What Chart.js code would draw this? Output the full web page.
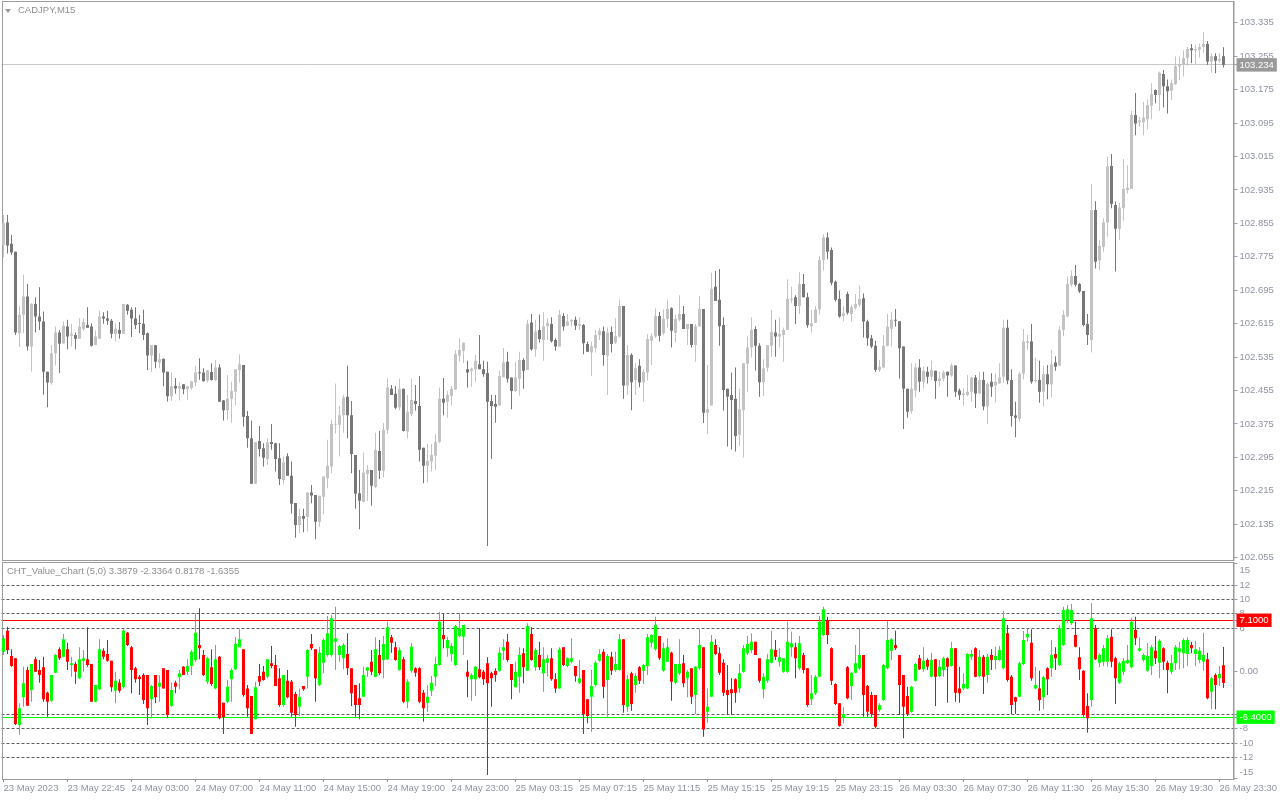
<!DOCTYPE html>
<html><head><meta charset="utf-8">
<script src="https://cdn.jsdelivr.net/npm/chart.js@4.4.1/dist/chart.umd.min.js"></script>
<style>
html,body{margin:0;padding:0;background:#fff;width:1280px;height:800px;overflow:hidden;}
#main{position:absolute;left:0;top:0;}
#ind{position:absolute;left:0;top:560px;}
.title{position:absolute;font-family:"Liberation Sans",Arial,sans-serif;font-size:9.5px;color:#8e8e8e;white-space:nowrap;line-height:12px;}
.tri{position:absolute;left:5px;top:9px;width:0;height:0;border-left:3px solid transparent;border-right:3px solid transparent;border-top:4px solid #9a9a9a;}
</style></head><body>
<canvas id="main" width="1280" height="566"></canvas>
<canvas id="ind" width="1280" height="240"></canvas>
<div class="tri"></div>
<div class="title" style="left:18px;top:4px">CADJPY,M15</div>
<div class="title" style="left:7px;top:565px">CHT_Value_Chart (5,0) 3.3879 -2.3364 0.8178 -1.6355</div>
<script>
// ---------- time axis ----------
const timeTickLabels = ['23 May 2023','23 May 22:45','24 May 03:00','24 May 07:00','24 May 11:00','24 May 15:00','24 May 19:00','24 May 23:00','25 May 03:15','25 May 07:15','25 May 11:15','25 May 15:15','25 May 19:15','25 May 23:15','26 May 03:30','26 May 07:30','26 May 11:30','26 May 15:30','26 May 19:30','26 May 23:30'];
const BARS_PER_LABEL = 16;
const EMPTY_SLOTS = 2;

// ---------- CADJPY M15 prices ----------
const mainOpen = [
102.803,102.857,102.806,102.787,102.592,102.636,102.680,102.560,102.662,102.632,
102.620,102.500,102.473,102.544,102.594,102.568,102.608,102.586,102.588,102.579,
102.602,102.612,102.608,102.564,102.579,102.632,102.627,102.622,102.591,102.600,
102.591,102.660,102.648,102.627,102.616,102.615,102.592,102.539,102.563,102.522,
102.531,102.500,102.441,102.466,102.460,102.470,102.458,102.461,102.474,102.498,
102.498,102.479,102.499,102.480,102.510,102.431,102.408,102.435,102.452,102.504,
102.516,102.394,102.341,102.232,102.334,102.317,102.291,102.332,102.329,102.293,
102.241,102.298,102.251,102.186,102.133,102.155,102.153,102.211,102.205,102.141,
102.201,102.245,102.273,102.373,102.373,102.396,102.440,102.396,102.301,102.209,
102.189,102.255,102.265,102.224,102.310,102.263,102.361,102.459,102.447,102.415,
102.459,102.357,102.399,102.430,102.418,102.318,102.275,102.285,102.299,102.332,
102.435,102.428,102.442,102.458,102.538,102.550,102.506,102.502,102.506,102.518,
102.506,102.497,102.430,102.423,102.419,102.487,102.524,102.486,102.454,102.483,
102.528,102.504,102.618,102.554,102.600,102.576,102.609,102.614,102.576,102.560,
102.633,102.610,102.620,102.624,102.610,102.612,102.566,102.546,102.557,102.588,
102.597,102.538,102.595,102.570,102.584,102.657,102.467,102.540,102.480,102.514,
102.475,102.498,102.574,102.584,102.633,102.592,102.626,102.652,102.593,102.624,
102.638,102.602,102.614,102.564,102.608,102.650,102.402,102.419,102.703,102.672,
102.612,102.459,102.444,102.435,102.349,102.408,102.519,102.558,102.602,102.562,
102.475,102.510,102.562,102.594,102.584,102.588,102.600,102.672,102.678,102.657,
102.710,102.678,102.609,102.617,102.649,102.767,102.821,102.791,102.715,102.674,
102.633,102.686,102.638,102.653,102.660,102.676,102.620,102.580,102.562,102.504,
102.510,102.562,102.603,102.624,102.621,102.560,102.459,102.406,102.455,102.510,
102.476,102.500,102.488,102.502,102.478,102.484,102.500,102.491,102.515,102.455,
102.444,102.444,102.452,102.486,102.448,102.480,102.417,102.476,102.467,102.472,
102.488,102.605,102.480,102.395,102.387,102.495,102.569,102.572,102.478,102.480,
102.452,102.494,102.470,102.522,102.514,102.600,102.632,102.708,102.729,102.710,
102.693,102.614,102.576,102.887,102.766,102.799,102.857,102.992,102.899,102.842,
102.891,102.935,102.937,103.114,103.097,103.097,103.104,103.136,103.174,103.162,
103.212,103.183,103.172,103.188,103.230,103.234,103.251,103.274,103.269,103.271,
103.277,103.284,103.242,103.255,103.244,103.255];
const mainHigh = [
102.875,102.875,102.827,102.787,102.656,102.732,102.710,102.664,102.678,102.702,
102.644,102.500,102.564,102.608,102.600,102.620,102.624,102.615,102.594,102.628,
102.628,102.654,102.616,102.599,102.646,102.642,102.646,102.626,102.615,102.619,
102.662,102.662,102.654,102.654,102.636,102.648,102.594,102.564,102.563,102.544,
102.531,102.500,102.498,102.485,102.474,102.470,102.465,102.477,102.514,102.532,
102.508,102.504,102.520,102.528,102.518,102.432,102.492,102.476,102.506,102.542,
102.516,102.406,102.383,102.331,102.370,102.329,102.341,102.375,102.330,102.329,
102.297,102.305,102.285,102.186,102.172,102.172,102.211,102.229,102.205,102.203,
102.249,102.337,102.385,102.472,102.418,102.444,102.514,102.430,102.301,102.265,
102.306,102.277,102.265,102.354,102.358,102.377,102.484,102.468,102.466,102.483,
102.459,102.444,102.483,102.468,102.490,102.318,102.327,102.327,102.351,102.462,
102.485,102.454,102.466,102.552,102.580,102.569,102.526,102.510,102.540,102.588,
102.526,102.524,102.444,102.444,102.502,102.557,102.548,102.486,102.524,102.548,
102.532,102.624,102.638,102.624,102.636,102.643,102.628,102.630,102.580,102.648,
102.640,102.638,102.625,102.632,102.630,102.614,102.572,102.572,102.600,102.605,
102.608,102.606,102.608,102.628,102.673,102.657,102.564,102.544,102.520,102.530,
102.506,102.590,102.592,102.652,102.643,102.649,102.672,102.654,102.636,102.683,
102.657,102.614,102.614,102.614,102.681,102.650,102.516,102.737,102.741,102.746,
102.630,102.459,102.498,102.510,102.459,102.520,102.584,102.630,102.609,102.568,
102.530,102.564,102.648,102.624,102.630,102.606,102.721,102.703,102.683,102.738,
102.734,102.689,102.648,102.657,102.777,102.829,102.833,102.797,102.718,102.694,
102.658,102.691,102.660,102.686,102.707,102.687,102.624,102.588,102.574,102.528,
102.588,102.638,102.642,102.650,102.621,102.560,102.459,102.520,102.520,102.530,
102.512,102.512,102.526,102.502,102.500,102.503,102.500,102.520,102.515,102.460,
102.460,102.492,102.488,102.492,102.500,102.500,102.475,102.496,102.496,102.520,
102.624,102.624,102.506,102.428,102.500,102.602,102.588,102.614,102.534,102.526,
102.514,102.516,102.552,102.537,102.609,102.647,102.728,102.742,102.755,102.712,
102.693,102.638,102.949,102.908,102.815,102.867,103.014,103.021,102.907,102.904,
103.009,102.994,103.124,103.167,103.110,103.146,103.152,103.190,103.175,103.218,
103.222,103.199,103.199,103.254,103.254,103.269,103.277,103.284,103.282,103.285,
103.312,103.291,103.262,103.262,103.262,103.276];
const mainLow = [
102.774,102.783,102.779,102.588,102.559,102.592,102.551,102.500,102.594,102.600,
102.445,102.415,102.469,102.515,102.497,102.567,102.554,102.560,102.554,102.579,
102.598,102.605,102.560,102.563,102.579,102.615,102.612,102.580,102.572,102.579,
102.591,102.636,102.583,102.602,102.592,102.576,102.504,102.500,102.508,102.508,
102.465,102.429,102.430,102.447,102.431,102.446,102.433,102.457,102.465,102.481,
102.477,102.474,102.479,102.478,102.428,102.383,102.385,102.378,102.420,102.474,
102.369,102.318,102.232,102.232,102.297,102.273,102.277,102.313,102.261,102.229,
102.231,102.251,102.161,102.103,102.114,102.116,102.118,102.185,102.099,102.129,
102.159,102.221,102.257,102.353,102.297,102.354,102.341,102.257,102.172,102.123,
102.187,102.191,102.179,102.221,102.243,102.247,102.351,102.444,102.410,102.408,
102.357,102.340,102.394,102.407,102.285,102.233,102.235,102.261,102.265,102.329,
102.396,102.390,102.420,102.456,102.524,102.520,102.462,102.464,102.476,102.506,
102.488,102.083,102.291,102.378,102.419,102.487,102.474,102.410,102.452,102.443,
102.459,102.504,102.550,102.536,102.570,102.526,102.576,102.570,102.550,102.560,
102.598,102.610,102.608,102.600,102.600,102.542,102.548,102.490,102.546,102.576,
102.514,102.444,102.546,102.566,102.582,102.435,102.444,102.408,102.444,102.463,
102.428,102.479,102.516,102.580,102.572,102.588,102.606,102.558,102.570,102.621,
102.602,102.564,102.558,102.524,102.608,102.377,102.351,102.419,102.669,102.562,
102.407,102.321,102.314,102.309,102.322,102.295,102.452,102.534,102.503,102.440,
102.442,102.500,102.536,102.536,102.558,102.524,102.600,102.665,102.614,102.638,
102.678,102.605,102.593,102.617,102.636,102.742,102.769,102.707,102.668,102.629,
102.621,102.637,102.620,102.648,102.654,102.582,102.562,102.556,102.499,102.499,
102.508,102.560,102.560,102.608,102.484,102.363,102.390,102.400,102.439,102.452,
102.460,102.472,102.480,102.435,102.464,102.476,102.440,102.488,102.440,102.432,
102.419,102.442,102.428,102.413,102.446,102.408,102.375,102.440,102.426,102.472,
102.475,102.470,102.369,102.343,102.381,102.482,102.552,102.471,102.474,102.426,
102.416,102.434,102.439,102.502,102.514,102.585,102.630,102.704,102.704,102.688,
102.608,102.564,102.546,102.747,102.743,102.787,102.823,102.891,102.740,102.815,
102.861,102.927,102.937,103.066,103.086,103.066,103.080,103.104,103.142,103.124,
103.132,103.118,103.150,103.186,103.198,103.206,103.232,103.238,103.234,103.252,
103.263,103.234,103.216,103.214,103.239,103.228];
const mainClose = [
102.855,102.802,102.785,102.594,102.636,102.680,102.560,102.662,102.632,102.620,
102.500,102.474,102.544,102.594,102.567,102.610,102.584,102.591,102.579,102.608,
102.619,102.605,102.562,102.584,102.632,102.627,102.622,102.591,102.603,102.591,
102.662,102.646,102.627,102.612,102.614,102.588,102.539,102.563,102.524,102.530,
102.498,102.441,102.465,102.460,102.466,102.458,102.465,102.477,102.498,102.496,
102.477,102.503,102.480,102.510,102.428,102.408,102.435,102.454,102.506,102.518,
102.392,102.341,102.232,102.331,102.315,102.294,102.331,102.327,102.291,102.243,
102.283,102.251,102.184,102.133,102.155,102.148,102.211,102.204,102.141,102.203,
102.249,102.275,102.375,102.375,102.396,102.438,102.396,102.303,102.208,102.191,
102.259,102.265,102.227,102.313,102.263,102.361,102.462,102.444,102.414,102.459,
102.358,102.404,102.432,102.423,102.313,102.275,102.287,102.301,102.332,102.435,
102.426,102.444,102.459,102.542,102.552,102.569,102.498,102.507,102.526,102.506,
102.494,102.428,102.418,102.416,102.490,102.522,102.483,102.454,102.486,102.528,
102.502,102.614,102.554,102.596,102.578,102.609,102.617,102.573,102.560,102.636,
102.608,102.620,102.624,102.610,102.614,102.568,102.548,102.561,102.588,102.598,
102.540,102.593,102.566,102.585,102.657,102.467,102.540,102.475,102.508,102.474,
102.499,102.578,102.585,102.633,102.586,102.626,102.650,102.598,102.626,102.638,
102.602,102.614,102.564,102.609,102.650,102.402,102.411,102.698,102.669,102.609,
102.456,102.440,102.432,102.346,102.410,102.520,102.558,102.600,102.562,102.475,
102.508,102.564,102.595,102.584,102.590,102.600,102.674,102.674,102.657,102.710,
102.678,102.612,102.616,102.649,102.767,102.821,102.787,102.713,102.672,102.632,
102.640,102.641,102.654,102.662,102.674,102.620,102.580,102.560,102.504,102.512,
102.562,102.608,102.624,102.622,102.556,102.459,102.404,102.459,102.510,102.476,
102.502,102.488,102.504,102.478,102.484,102.498,102.491,102.515,102.452,102.444,
102.448,102.452,102.486,102.448,102.480,102.417,102.471,102.464,102.476,102.486,
102.605,102.479,102.394,102.390,102.495,102.572,102.573,102.476,102.480,102.452,
102.494,102.470,102.518,102.512,102.600,102.636,102.710,102.729,102.708,102.692,
102.612,102.588,102.887,102.763,102.801,102.857,102.991,102.901,102.842,102.893,
102.937,102.940,103.114,103.094,103.101,103.108,103.138,103.164,103.162,103.215,
103.183,103.171,103.190,103.231,103.236,103.250,103.272,103.269,103.272,103.277,
103.284,103.242,103.255,103.244,103.248,103.234];

// ---------- CHT_Value_Chart (5,0) ----------
const indOpen = [
2.72,5.65,2.12,1.79,-7.49,-3.64,0.17,-2.62,1.65,0.17,
0.54,-2.99,-4.10,-0.20,3.05,2.02,3.05,0.86,1.00,-0.99,
1.47,1.65,1.00,-4.24,-2.52,2.86,2.40,1.47,-2.71,-1.60,
-2.25,5.37,3.33,0.40,-0.76,-0.53,-0.53,-3.92,-0.53,-2.15,
0.40,0.17,-4.85,-1.60,-0.85,0.63,-0.06,0.73,1.56,3.65,
2.26,-1.46,0.54,-2.39,2.02,-4.38,-4.24,-1.13,0.26,3.33,
3.05,-2.39,-3.45,-6.70,-0.67,-0.06,-0.76,1.10,0.86,-0.99,
-4.71,-1.32,-1.46,-3.18,-4.94,-2.06,-0.76,3.79,3.05,-1.92,
1.19,2.26,2.26,4.11,2.26,1.79,2.40,0.40,-1.92,-3.78,
-3.55,0.07,1.33,-0.76,2.26,1.56,1.65,4.72,3.33,0.17,
1.65,-4.24,0.07,0.40,0.40,-2.99,-4.38,-2.71,-0.76,0.86,
5.04,3.19,2.40,0.86,4.90,4.81,-0.06,-1.13,-1.13,0.26,
-0.06,1.10,-0.30,0.02,0.07,2.86,4.11,1.00,-2.25,-0.76,
2.49,0.07,5.18,0.54,2.26,-0.30,1.19,1.79,-1.13,-2.39,
3.33,0.73,1.33,0.73,-1.60,0.17,-3.92,-3.55,-1.92,1.47,
2.72,-1.22,2.02,0.17,0.17,4.44,-4.94,-0.30,-1.92,0.54,
0.07,0.73,3.98,3.05,4.90,0.07,1.33,2.58,-1.60,-0.30,
1.10,-0.99,0.40,-3.31,0.40,3.33,-5.64,-3.55,3.65,2.49,
1.19,-2.62,-2.52,-1.13,-2.39,-0.06,2.49,2.95,4.11,1.79,
-2.52,-1.32,1.19,2.95,1.33,-0.06,-0.06,3.33,3.33,0.40,
2.26,0.40,-3.92,-3.08,-0.76,5.04,7.04,3.19,-1.78,-4.47,
-6.42,0.54,-2.06,-0.20,0.40,2.26,-2.06,-3.31,-3.31,-5.40,
-4.01,0.40,2.86,3.65,2.26,-0.53,-3.45,-5.64,-1.32,1.79,
0.26,1.56,-0.76,1.65,-0.67,0.17,1.79,0.73,3.19,-2.39,
-2.39,-2.39,2.02,3.19,-0.67,2.02,-0.53,2.26,1.56,1.56,
0.40,5.28,-0.76,-3.64,-3.55,1.00,4.72,3.98,-2.39,-2.39,
-3.64,0.40,0.40,2.40,0.86,3.65,7.13,6.67,5.04,1.93,
0.07,-4.85,-4.01,5.97,1.19,1.33,1.33,4.81,1.79,-1.60,
-0.06,1.10,0.54,5.74,2.86,1.56,0.07,0.73,2.86,1.19,
3.19,1.19,-0.06,1.10,2.72,2.49,2.40,3.65,2.40,1.56,
1.33,1.65,-2.85,-0.53,-0.99,0.8178];
const indHigh = [
5.04,6.20,3.05,1.79,-4.47,0.63,0.63,1.00,2.02,1.56,
2.02,-2.85,-0.53,2.40,3.33,5.18,3.98,2.02,1.33,3.33,
2.95,6.11,1.00,-1.92,4.44,3.19,4.35,1.47,-0.06,-1.13,
5.83,5.51,3.51,0.63,-0.53,-0.30,-0.53,-1.92,-0.53,-0.53,
0.40,0.17,-1.60,-1.32,0.17,0.73,1.65,2.95,8.06,8.76,
2.95,2.02,3.05,3.65,2.12,-4.38,-1.22,0.40,4.72,5.83,
3.05,-1.92,-3.45,-1.46,1.00,0.73,1.65,3.51,2.26,0.40,
-0.53,0.17,-1.22,-2.85,-2.39,-2.06,3.05,5.18,3.05,3.42,
4.58,7.69,7.83,8.99,3.65,3.88,5.28,0.40,-1.92,-1.69,
0.63,0.63,2.95,4.72,4.35,4.90,6.90,5.04,4.11,3.33,
2.02,-1.13,3.88,0.54,0.54,-2.62,-1.92,-0.67,2.02,8.29,
7.97,4.81,3.88,6.44,8.06,6.44,1.56,-0.30,0.73,5.97,
0.17,1.93,-0.06,0.40,3.33,4.44,5.18,1.00,1.33,3.33,
3.19,6.67,6.11,3.19,4.11,3.33,2.26,3.19,-0.30,3.33,
3.33,1.93,4.58,0.73,1.56,0.17,-3.92,0.17,1.47,3.05,
3.05,2.40,2.72,2.72,5.18,4.44,-0.53,-0.06,-0.30,0.73,
1.00,5.18,5.18,7.60,4.90,3.98,4.58,2.72,1.00,4.44,
2.26,0.17,0.40,0.73,5.83,3.33,-2.39,5.04,4.44,3.33,
1.65,0.86,-0.99,-0.99,1.00,3.65,4.90,5.28,4.11,1.79,
-0.30,2.40,5.65,4.35,3.19,1.79,6.90,5.51,3.98,4.90,
2.58,0.40,-0.53,-0.53,7.69,8.99,7.60,3.33,-1.69,-4.47,
-5.03,0.73,-0.06,3.65,5.97,2.26,-1.92,-2.85,-3.31,-4.47,
1.00,7.04,4.58,5.65,2.26,-0.53,-2.15,-2.06,1.19,2.26,
3.33,1.79,2.58,1.65,1.56,2.02,1.93,4.11,3.19,0.63,
-0.30,2.49,2.95,3.33,2.95,2.26,2.40,3.05,3.42,3.51,
8.43,6.44,-0.53,-3.55,1.33,5.65,5.97,5.83,0.63,0.07,
-0.67,0.54,4.35,3.33,6.44,8.99,9.22,9.36,6.90,3.33,
0.17,-3.08,9.45,6.44,2.49,3.65,5.04,5.83,2.02,1.33,
1.79,3.65,7.36,7.60,4.72,2.49,3.98,3.65,4.90,4.44,
3.33,1.47,2.26,3.65,4.11,4.58,4.72,4.11,4.25,3.33,
5.37,2.58,-0.76,-0.30,0.73,3.3879];
const indLow = [
2.26,2.40,0.63,-7.49,-8.89,-4.94,-4.80,-4.24,-0.06,-1.60,
-4.24,-6.33,-4.24,-0.30,1.56,1.93,0.17,-0.76,-1.78,-1.09,
-0.06,0.63,-4.24,-4.33,-2.62,1.65,1.33,-2.85,-4.47,-2.99,
-2.39,3.51,-3.08,-1.60,-3.31,-4.57,-7.49,-6.56,-4.47,-4.24,
-2.39,-6.56,-4.94,-3.08,-2.52,-0.53,-0.53,-0.53,1.33,1.65,
-0.67,-1.78,-2.06,-2.52,-6.70,-8.75,-4.47,-4.24,0.17,3.33,
-3.55,-6.33,-8.75,-6.70,-2.06,-1.32,-0.99,0.40,-2.06,-4.94,
-4.94,-3.78,-6.33,-7.73,-6.24,-2.71,-2.39,2.95,-4.24,-2.06,
-0.30,2.02,2.02,0.17,1.33,0.26,-0.53,-4.85,-6.33,-6.70,
-3.55,-0.76,-0.53,-0.85,-0.53,-0.99,1.56,2.58,1.47,0.07,
-4.47,-5.17,-0.20,-0.76,-4.47,-7.03,-5.64,-3.45,-2.06,0.73,
3.19,2.02,1.33,0.73,4.72,2.26,-3.64,-4.10,-3.45,-0.99,
-1.92,-14.46,-4.94,-1.46,-0.06,1.56,1.33,-3.92,-2.25,-2.99,
-1.69,0.07,1.47,0.07,0.17,-2.85,-0.76,-1.32,-2.99,-2.39,
0.73,0.54,1.10,-1.46,-1.78,-8.75,-7.26,-8.42,-2.15,1.33,
-3.78,-6.33,-0.53,-0.06,0.07,-5.78,-5.64,-5.50,-2.99,-1.78,
-1.78,-0.53,3.33,2.86,1.56,-0.06,1.33,-4.10,-1.78,-0.53,
-2.25,-3.64,-4.57,-5.96,0.17,-9.12,-7.17,-3.55,2.26,-0.53,
-3.45,-6.10,-6.10,-4.38,-2.99,-0.20,2.26,2.49,2.26,-1.60,
-3.78,-1.60,1.10,1.56,0.63,-0.20,-0.20,2.02,-0.99,0.17,
-0.30,-4.94,-4.71,-3.31,-0.85,4.90,3.79,-1.92,-4.71,-7.73,
-7.26,-3.92,-4.01,-0.30,0.17,-6.33,-6.33,-6.33,-7.96,-5.64,
-4.10,0.26,1.56,2.95,-6.10,-9.35,-6.24,-5.78,-1.46,0.17,
-0.06,0.17,-0.85,-4.85,-0.85,-0.76,-4.38,0.63,-4.24,-4.38,
-2.62,-2.52,1.56,-0.85,-0.85,-3.18,-1.60,0.17,0.26,1.47,
0.26,-1.46,-5.96,-5.96,-3.64,0.86,4.11,-1.32,-2.52,-5.50,
-5.31,-3.31,-0.76,0.17,0.73,3.51,6.67,6.44,3.33,-1.22,
-6.33,-8.56,-4.94,1.56,0.54,0.73,0.63,0.54,-4.57,-1.78,
-0.53,1.00,0.40,3.65,2.72,1.33,-0.06,-0.53,1.00,-0.99,
0.17,-3.08,-0.39,0.17,0.26,0.40,0.73,2.49,0.73,1.10,
0.07,-3.92,-5.31,-5.31,-2.06,-2.3364];
const indClose = [
4.58,2.95,0.73,-7.35,-5.17,-1.69,-4.80,1.00,-0.06,-0.53,
-3.92,-4.24,-0.53,2.26,1.79,4.44,1.33,1.10,-0.06,1.65,
1.79,0.86,-4.24,-1.92,3.05,2.02,1.47,-2.25,-1.32,-2.71,
5.65,3.65,0.17,-1.13,-1.09,-4.01,-5.17,-2.06,-3.64,-1.60,
-2.39,-6.10,-2.62,-2.15,-0.30,-0.53,0.73,2.72,5.37,3.19,
-0.53,1.79,-1.78,1.65,-6.56,-6.42,-2.15,0.17,3.79,4.44,
-3.31,-5.17,-8.75,-2.25,-1.46,-1.22,1.65,0.73,-2.06,-4.71,
-0.53,-3.64,-5.78,-6.10,-3.55,-2.52,2.95,3.19,-0.99,2.58,
4.35,5.28,7.36,4.58,3.51,3.65,0.40,-3.08,-4.71,-4.71,
-0.53,0.54,-0.06,3.05,-0.30,3.79,6.11,3.98,1.56,2.95,
-4.24,-1.46,3.42,-0.20,-4.24,-5.17,-3.55,-1.60,1.00,6.90,
4.44,4.35,3.51,6.30,5.97,6.44,-0.76,-0.53,0.63,-0.85,
-1.13,-1.69,-0.99,-0.53,2.58,3.33,1.56,-1.22,-0.06,2.26,
0.54,6.30,1.56,2.95,0.54,1.65,1.79,-1.13,-2.39,3.05,
0.86,1.79,1.79,-0.67,-0.99,-5.96,-6.24,-2.06,1.19,2.40,
-2.15,2.12,0.07,1.00,4.44,-4.71,-1.13,-4.57,-0.67,-1.32,
0.86,4.72,5.04,6.44,1.79,3.19,3.33,-1.46,1.00,1.00,
-1.69,-0.06,-3.55,0.63,3.65,-8.10,-4.94,4.11,2.40,-0.20,
-2.99,-3.31,-3.08,-2.99,-0.30,3.19,3.79,4.11,2.26,-1.32,
-0.76,1.65,3.05,2.02,1.93,1.79,4.11,3.88,1.79,3.88,
0.17,-4.71,-3.08,-0.76,6.90,8.62,5.04,-1.32,-4.57,-7.63,
-5.96,-3.78,-0.20,1.10,2.26,-3.31,-5.64,-5.96,-7.73,-4.71,
0.86,4.35,4.44,3.19,-1.92,-4.94,-5.96,-2.15,1.00,0.26,
1.47,0.63,1.56,-0.76,0.63,1.79,0.63,3.19,-2.99,-3.08,
-1.78,2.40,2.40,-0.76,2.02,-0.76,2.02,1.56,2.12,2.95,
7.36,-1.22,-4.71,-4.24,1.10,4.35,5.18,-0.99,-1.92,-4.01,
-0.85,-1.13,2.26,1.79,5.97,8.53,8.62,8.53,3.42,0.26,
-6.10,-6.56,7.36,1.65,2.26,3.19,4.58,1.33,-0.99,1.10,
1.47,1.56,6.90,4.58,3.19,2.26,2.12,3.33,1.79,4.25,
1.33,0.17,1.10,3.33,3.19,4.35,4.35,3.19,3.05,2.86,
2.26,-3.78,-0.99,-1.92,-0.39,-1.6355];

// ---------- axis ticks / levels ----------
const priceTicks = [103.335,103.255,103.175,103.095,103.015,102.935,102.855,102.775,102.695,102.615,102.535,102.455,102.375,102.295,102.215,102.135,102.055];
const currentPrice = 103.234;
const indTickValues = [15,12,10,8,6,0,-6,-8,-10,-12,-15];
const indTickLabels = ['15','12','10','8','6','0.00','','-8','-10','-12','-15'];
const dashedLevels = [12,10,8,6,-6,-8,-10,-12];
const levelValues = [7.1,-6.4];
const levelLabels = ['7.1000','-6.4000'];

// ---------- styling ----------
const FONT = {family:"'Liberation Sans', Arial, sans-serif", size:9.5};
const AXIS_TEXT = '#8f93a3';
const FRAME = '#9c9c9c';
const UP_GRAY = '#c3c3c3', DOWN_GRAY = '#777777';
const UP_IND = '#00ff00', DOWN_IND = '#ff0000';
const LEVEL_COLORS = ['#ff0000', '#00ff00'];

const categories = [];
for (let i = 0; i < mainClose.length + EMPTY_SLOTS; i++) {
  const k = i / BARS_PER_LABEL;
  categories.push(i % BARS_PER_LABEL === 0 && k < timeTickLabels.length ? timeTickLabels[k] : '');
}

function framePlugin(top) {
  return {
    id: 'frame',
    beforeDatasetsDraw(chart) {
      const a = chart.chartArea, c = chart.ctx;
      c.save(); c.strokeStyle = FRAME; c.lineWidth = 1;
      c.strokeRect(2.5, top, Math.round(a.right) - 2.5 + 0.5 - 0.5, Math.round(a.bottom) + 0.5 - top);
      c.restore();
    }
  };
}
function candleSets(o, h, l, c, up, down) {
  const col = ctx => (c[ctx.dataIndex] >= o[ctx.dataIndex] ? up : down);
  return [
    {data: o.map((v, i) => [v, c[i]]), backgroundColor: col, barThickness: 3, minBarLength: 1,
     grouped: false, inflateAmount: 0, borderWidth: 0},
    {data: l.map((v, i) => [v, h[i]]), backgroundColor: col, barThickness: 1, minBarLength: 1,
     grouped: false, inflateAmount: 0, borderWidth: 0}
  ];
}
const common = {responsive: false, animation: false, devicePixelRatio: 1, events: [],
  plugins: {legend: {display: false}, tooltip: {enabled: false}}};

// ---------- price chart ----------
new Chart(document.getElementById('main'), {
  type: 'bar',
  data: {labels: categories, datasets: candleSets(mainOpen, mainHigh, mainLow, mainClose, UP_GRAY, DOWN_GRAY)},
  options: Object.assign({}, common, {
    layout: {padding: {left: 1.5, right: 0, top: 2, bottom: 6}, autoPadding: false},
    scales: {
      x: {display: false, offset: true},
      y: {
        position: 'right', min: 102.0495, max: 103.3845, bounds: 'data',
        afterBuildTicks: s => { s.ticks = priceTicks.concat([currentPrice]).map(v => ({value: v})); },
        afterFit: s => { s.width = 46.5; s.paddingTop = 0; s.paddingBottom = 0; },
        grid: {drawOnChartArea: true, drawTicks: true, tickLength: 4, tickColor: '#a0a0a0',
               color: c => (c.tick && c.tick.value === currentPrice) ? '#c8c8c8' : 'rgba(0,0,0,0)'},
        border: {display: true, color: FRAME},
        ticks: {autoSkip: false, padding: 2, font: FONT,
          callback: v => v.toFixed(3),
          color: c => (c.tick && c.tick.value === currentPrice) ? '#ffffff' : AXIS_TEXT,
          showLabelBackdrop: c => !!(c.tick && c.tick.value === currentPrice),
          backdropColor: '#999999', backdropPadding: {left: 3, right: 3, top: 1, bottom: 1}}
      }
    }
  }),
  plugins: [framePlugin(1.5)]
});

// ---------- indicator chart ----------
const indTicksAll = indTickValues.concat(levelValues);
const indLabelsAll = indTickLabels.concat(levelLabels);
const clampEdgeLabels = {
  id: 'clampEdgeLabels',
  beforeDraw(chart) {
    const s = chart.scales.y, a = chart.chartArea;
    const items = s.getLabelItems(a);
    items.forEach(it => {
      const t = it.options.translation;
      if (it.label === '15') t[1] = Math.max(t[1], a.top + 7.5);
      if (it.label === '-15') t[1] = Math.min(t[1], a.bottom - 7);
    });
  }
};
new Chart(document.getElementById('ind'), {
  type: 'bar',
  data: {labels: categories, datasets: candleSets(indOpen, indHigh, indLow, indClose, UP_IND, DOWN_IND)},
  options: Object.assign({}, common, {
    layout: {padding: {left: 1.5, right: 0, top: 2.5, bottom: 0}, autoPadding: false},
    scales: {
      x: {
        offset: true,
        afterFit: s => { s.height = 21; s.paddingLeft = 0; s.paddingRight = 0; },
        grid: {offset: false, drawOnChartArea: false, drawTicks: true, tickLength: 3, color: 'rgba(0,0,0,0)',
               tickColor: c => (c.index % BARS_PER_LABEL === 0 && c.index / BARS_PER_LABEL < timeTickLabels.length) ? '#8a8a8a' : 'rgba(0,0,0,0)'},
        border: {display: false},
        ticks: {autoSkip: false, maxRotation: 0, minRotation: 0, align: 'start', padding: 1, font: FONT, color: AXIS_TEXT}
      },
      y: {
        position: 'right', min: -15.01, max: 15.14, bounds: 'data',
        afterBuildTicks: s => { s.ticks = indTicksAll.map(v => ({value: v})); },
        afterFit: s => { s.width = 46.5; s.paddingTop = 0; s.paddingBottom = 0; },
        grid: {drawOnChartArea: true, drawTicks: true, tickLength: 4, tickColor: '#a0a0a0',
          color: c => {
            if (!c.tick) return 'rgba(0,0,0,0)';
            const li = levelValues.indexOf(c.tick.value);
            if (li >= 0) return LEVEL_COLORS[li];
            return dashedLevels.includes(c.tick.value) ? '#5c5c5c' : 'rgba(0,0,0,0)';
          }},
        border: {display: true, color: FRAME,
          dash: c => (c.tick && dashedLevels.includes(c.tick.value)) ? [3, 2] : []},
        ticks: {autoSkip: false, padding: 2, font: FONT,
          callback: (v, i) => indLabelsAll[i],
          color: c => (c.tick && levelValues.includes(c.tick.value)) ? '#ffffff' : AXIS_TEXT,
          showLabelBackdrop: c => !!(c.tick && levelValues.includes(c.tick.value)),
          backdropColor: c => (c.tick && levelValues.indexOf(c.tick.value) === 1) ? LEVEL_COLORS[1] : LEVEL_COLORS[0],
          backdropPadding: {left: 3, right: 3, top: 1, bottom: 1}}
      }
    }
  }),
  plugins: [framePlugin(2.5), clampEdgeLabels]
});
</script>
</body></html>
